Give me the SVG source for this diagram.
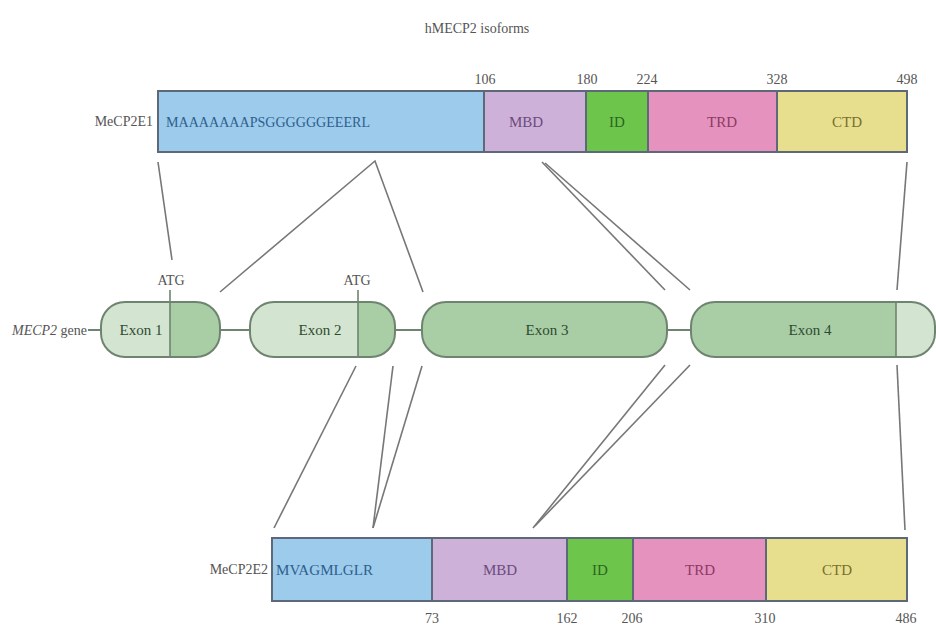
<svg xmlns="http://www.w3.org/2000/svg" width="936" height="625" viewBox="0 0 936 625" font-family="'Liberation Serif','Times New Roman',serif">
<style>
text{font-family:"Liberation Serif","Times New Roman",serif;}
.lbl{fill:#555;font-size:14px;}
.num{fill:#555;font-size:14px;text-anchor:middle;}
.seg{stroke:#5d6878;stroke-width:2;}
.st{font-size:15px;text-anchor:middle;font-family:"Liberation Serif",serif;}
.con{stroke:#777;stroke-width:1.6;fill:none;}
.exL{fill:#d3e5d1;}
.exD{fill:#a9cea6;}
.exO{fill:none;stroke:#6e8470;stroke-width:2;}
.ex{fill:#2f4a2f;font-size:15px;text-anchor:middle;font-family:"Liberation Serif",serif;}
</style>
<rect width="936" height="625" fill="#fff"/>
<text x="477" y="33" class="lbl" text-anchor="middle">hMECP2 isoforms</text>

<g id="mecp2e1">
<text x="153" y="126" class="lbl" text-anchor="end">MeCP2E1</text>
<rect x="158" y="91" width="326" height="61" class="seg" fill="#9ccbec"/>
<rect x="484" y="91" width="102" height="61" class="seg" fill="#cdb1d8"/>
<rect x="586" y="91" width="62" height="61" class="seg" fill="#6dc64b"/>
<rect x="648" y="91" width="129" height="61" class="seg" fill="#e692bf"/>
<rect x="777" y="91" width="130" height="61" class="seg" fill="#e7df8e"/>
<text x="166" y="127" font-size="15" fill="#2f5f8c" textLength="204" lengthAdjust="spacingAndGlyphs">MAAAAAAAPSGGGGGGEEERL</text>
<text x="526" y="127" class="st" fill="#6c4b7c">MBD</text>
<text x="617" y="127" class="st" fill="#2d641f">ID</text>
<text x="722" y="127" class="st" fill="#8b3b62">TRD</text>
<text x="847" y="127" class="st" fill="#77702f">CTD</text>
<text x="485" y="84" class="num">106</text>
<text x="587" y="84" class="num">180</text>
<text x="647" y="84" class="num">224</text>
<text x="777" y="84" class="num">328</text>
<text x="907" y="84" class="num">498</text>
</g>

<g id="gene">
<text x="12" y="335" class="lbl"><tspan font-style="italic">MECP2</tspan> gene</text>
<line x1="88" y1="330" x2="101" y2="330" stroke="#6e8470" stroke-width="2"/>
<line x1="220" y1="330" x2="250" y2="330" stroke="#6e8470" stroke-width="2"/>
<line x1="395" y1="330" x2="422" y2="330" stroke="#6e8470" stroke-width="2"/>
<line x1="667" y1="330" x2="691" y2="330" stroke="#6e8470" stroke-width="2"/>
</g>

<g id="exon1">
<clipPath id="c1"><rect x="101" y="302" width="119" height="55" rx="24"/></clipPath>
<g clip-path="url(#c1)"><rect x="101" y="302" width="69" height="55" class="exL"/><rect x="170" y="302" width="50" height="55" class="exD"/></g>
<rect x="101" y="302" width="119" height="55" rx="24" class="exO"/>
<line x1="170" y1="290" x2="170" y2="357" stroke="#6e8470" stroke-width="1.6"/>
<text x="171" y="285" class="num">ATG</text>
<text x="141" y="335" class="ex">Exon 1</text>
</g>

<g id="exon2">
<clipPath id="c2"><rect x="250" y="302" width="145" height="55" rx="24"/></clipPath>
<g clip-path="url(#c2)"><rect x="250" y="302" width="108" height="55" class="exL"/><rect x="358" y="302" width="37" height="55" class="exD"/></g>
<rect x="250" y="302" width="145" height="55" rx="24" class="exO"/>
<line x1="358" y1="290" x2="358" y2="357" stroke="#6e8470" stroke-width="1.6"/>
<text x="357" y="285" class="num">ATG</text>
<text x="320" y="335" class="ex">Exon 2</text>
</g>

<g id="exon3">
<rect x="422" y="302" width="245" height="55" rx="24" class="exD"/>
<rect x="422" y="302" width="245" height="55" rx="24" class="exO"/>
<text x="547" y="335" class="ex">Exon 3</text>
</g>

<g id="exon4">
<clipPath id="c4"><rect x="691" y="302" width="244" height="55" rx="24"/></clipPath>
<g clip-path="url(#c4)"><rect x="691" y="302" width="205" height="55" class="exD"/><rect x="896" y="302" width="39" height="55" class="exL"/></g>
<rect x="691" y="302" width="244" height="55" rx="24" class="exO"/>
<line x1="896" y1="302" x2="896" y2="357" stroke="#6e8470" stroke-width="1.6"/>
<text x="810" y="335" class="ex">Exon 4</text>
</g>

<g id="mecp2e2">
<text x="268" y="574" class="lbl" text-anchor="end">MeCP2E2</text>
<rect x="272" y="538" width="160" height="63" class="seg" fill="#9ccbec"/>
<rect x="432" y="538" width="135" height="63" class="seg" fill="#cdb1d8"/>
<rect x="567" y="538" width="66" height="63" class="seg" fill="#6dc64b"/>
<rect x="633" y="538" width="133" height="63" class="seg" fill="#e692bf"/>
<rect x="766" y="538" width="141" height="63" class="seg" fill="#e7df8e"/>
<text x="276" y="575" font-size="15" fill="#2f5f8c" textLength="97" lengthAdjust="spacingAndGlyphs">MVAGMLGLR</text>
<text x="500" y="575" class="st" fill="#6c4b7c">MBD</text>
<text x="600" y="575" class="st" fill="#2d641f">ID</text>
<text x="700" y="575" class="st" fill="#8b3b62">TRD</text>
<text x="837" y="575" class="st" fill="#77702f">CTD</text>
<text x="432" y="623" class="num">73</text>
<text x="567" y="623" class="num">162</text>
<text x="632" y="623" class="num">206</text>
<text x="765" y="623" class="num">310</text>
<text x="906" y="623" class="num">486</text>
</g>

<g id="connectors">
<line x1="158" y1="162" x2="172" y2="260" class="con"/>
<polyline points="220,292 375,161 423,292" class="con"/>
<line x1="542" y1="162" x2="665" y2="290" class="con"/>
<line x1="545" y1="163" x2="690" y2="290" class="con"/>
<line x1="907" y1="162" x2="897" y2="290" class="con"/>
<line x1="356" y1="366" x2="274" y2="528" class="con"/>
<line x1="393" y1="366" x2="373" y2="528" class="con"/>
<line x1="422" y1="366" x2="373" y2="528" class="con"/>
<line x1="665" y1="365" x2="533" y2="528" class="con"/>
<line x1="690" y1="365" x2="535" y2="526" class="con"/>
<line x1="897" y1="365" x2="905" y2="530" class="con"/>
</g>
</svg>
